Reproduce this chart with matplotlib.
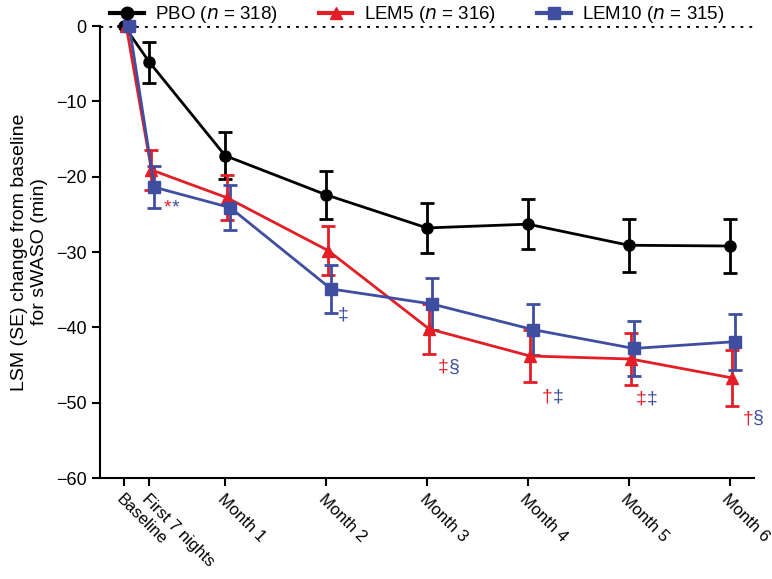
import matplotlib.pyplot as plt
from matplotlib.lines import Line2D
import numpy as np

plt.rcParams['font.family'] = ['Liberation Sans', 'DejaVu Sans']

# Visit positions (baseline = 0, months 1-6, first 7 nights ~ week 1)
visits = ['Baseline', 'First 7 nights', 'Month 1', 'Month 2', 'Month 3', 'Month 4', 'Month 5', 'Month 6']
x_pos = [0, 0.25, 1, 2, 3, 4, 5, 6]

pbo_mean = [0, -4.8, -17.2, -22.4, -26.8, -26.3, -29.1, -29.2]
pbo_se = [0, 2.7, 3.1, 3.2, 3.3, 3.3, 3.5, 3.6]

lem5_mean = [0, -19.1, -22.8, -29.8, -40.2, -43.8, -44.2, -46.7]
lem5_se = [0, 2.7, 3.0, 3.2, 3.3, 3.4, 3.5, 3.7]

lem10_mean = [0, -21.4, -24.1, -34.9, -36.9, -40.3, -42.8, -41.9]
lem10_se = [0, 2.8, 3.0, 3.2, 3.4, 3.4, 3.6, 3.7]

c_pbo = 'black'
c_lem5 = '#e41e26'
c_lem10 = '#3f4ea0'

fig = plt.figure(figsize=(7.72, 5.79), dpi=100)
ax = fig.add_axes([0.1295, 0.1744, 0.8472, 0.7806])

x = np.array(x_pos)
series = [
    (pbo_mean, pbo_se, c_pbo, 'o', 0.0, 'PBO ($\\it{n}$ = 318)'),
    (lem5_mean, lem5_se, c_lem5, '^', 0.02, 'LEM5 ($\\it{n}$ = 316)'),
    (lem10_mean, lem10_se, c_lem10, 's', 0.05, 'LEM10 ($\\it{n}$ = 315)'),
]

ax.axhline(0, color='black', linestyle=(0, (1, 2.2)), linewidth=2, zorder=1)

handles = []
for mean, se, col, mk, off, lab in series:
    ax.errorbar(x + off, mean, yerr=se, color=col, marker=mk, markersize=8,
                linewidth=2, elinewidth=2, capsize=5, capthick=2,
                clip_on=False, zorder=3)
    handles.append(Line2D([], [], color=col, marker=mk, markersize=9, linewidth=3, label=lab))

# significance annotations (first symbol LEM5 red, second LEM10 blue)
notes = [
    (0.39, -24.2, '*', '*', 6),
    (3.11, -45.3, '‡', '§', 7.5),
    (4.14, -49.3, '†', '‡', 7.5),
    (5.07, -49.5, '‡', '‡', 7.5),
    (6.13, -52.1, '†', '§', 7.5),
]
for nx, ny, s1, s2, dx in notes:
    ax.annotate(s1, xy=(nx, ny), color=c_lem5, fontsize=14, ha='left', va='center')
    ax.annotate(s2, xy=(nx, ny), xytext=(dx, 0), textcoords='offset points',
                color=c_lem10, fontsize=14, ha='left', va='center')
ax.annotate('‡', xy=(2.12, -38.4), color=c_lem10, fontsize=14, ha='left', va='center')

ax.set_xlim(-0.24, 6.24)
ax.set_ylim(-60, 0)
ax.set_yticks(np.arange(-60, 1, 10))
ax.tick_params(axis='y', labelsize=13)
ax.set_xticks(x_pos)
ax.set_xticklabels(visits, rotation=-45, ha='left', va='top', rotation_mode='anchor', fontsize=12)

ax.set_ylabel('LSM (SE) change from baseline\nfor sWASO (min)', fontsize=14, labelpad=6)

for side in ['top', 'right']:
    ax.spines[side].set_visible(False)
for side in ['left', 'bottom']:
    ax.spines[side].set_linewidth(1.5)
ax.tick_params(axis='both', width=1.5, length=6, direction='out')

ax.legend(handles=handles, loc='lower center', bbox_to_anchor=(0.485, 0.985), ncol=3, frameon=False,
          fontsize=13.5, handlelength=1.8, handletextpad=0.6, columnspacing=2.2, borderaxespad=0)

fig.savefig('out.png', dpi=100)
